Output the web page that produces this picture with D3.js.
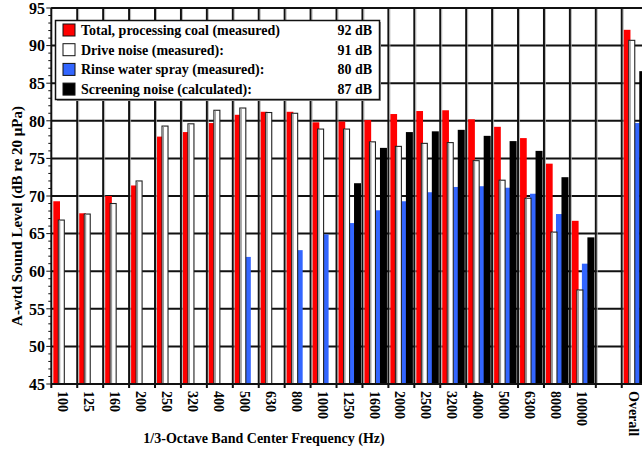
<!DOCTYPE html>
<html><head><meta charset="utf-8">
<script src="https://cdn.jsdelivr.net/npm/d3@7"></script>
<style>
body{margin:0;background:#fff}
svg{display:block}
text{font-family:"Liberation Serif","Times New Roman",serif;font-weight:bold;fill:#000}
</style>
</head><body><svg id="c" width="642" height="451"></svg>
<script>
const categories = ["100","125","160","200","250","320","400","500","630","800","1000","1250","1600","2000","2500","3200","4000","5000","6300","8000","10000","","Overall"];
const totalCoal  = [69.3,67.7,70.0,71.4,77.9,78.5,79.7,80.8,81.2,81.2,79.8,79.9,80.1,80.9,81.3,81.4,80.2,79.2,77.7,74.3,66.7,null,92.1];
const driveNoise = [66.8,67.6,69.0,72.0,79.3,79.6,81.4,81.7,81.1,81.0,78.9,78.9,77.2,76.6,77.0,77.1,74.7,72.1,69.7,65.2,57.5,null,90.7];
const rinseSpray = [null,null,null,null,null,null,null,61.9,null,62.8,64.9,66.4,68.1,69.3,70.5,71.2,71.3,71.1,70.3,67.6,61.0,null,79.7];
const screening  = [null,null,null,null,null,null,null,null,null,null,null,71.7,76.4,78.5,78.6,78.8,78.0,77.3,76.0,72.5,64.5,null,86.6];
const seriesNames = ["Total, processing coal (measured)","Drive noise (measured):","Rinse water spray (measured):","Screening noise (calculated):"];
const overallLabels = ["92 dB","91 dB","80 dB","87 dB"];
const yTicks = [45,50,55,60,65,70,75,80,85,90,95];
const xTitle = "1/3-Octave Band Center Frequency (Hz)";
const yTitle = "A-wtd Sound Level (dB re 20 \u03BCPa)";

const svg = d3.select("#c");
const pL = 51.3, slotW = 25.93, pT = 8, pB = 384;
const x = d3.scaleBand().domain(d3.range(categories.length)).range([pL, pL + slotW*categories.length]).padding(0);
const y = d3.scaleLinear().domain([45,95]).range([pB, pT]);

// grid
const g = svg.append("g");
g.selectAll("line.h").data(yTicks.slice(1)).join("line")
  .attr("x1", pL).attr("x2", 660).attr("y1", d=>y(d)).attr("y2", d=>y(d))
  .attr("stroke","#111").attr("stroke-width",2);
g.selectAll("line.v").data(d3.range(1, categories.length)).join("line")
  .attr("x1", d=>x(d)).attr("x2", d=>x(d)).attr("y1", pT).attr("y2", pB+4)
  .attr("stroke","#111").attr("stroke-width",2);
g.selectAll("line.vs").data(d3.range(1, categories.length)).join("line")
  .attr("x1", d=>x(d)+1.5).attr("x2", d=>x(d)+1.5).attr("y1", pT).attr("y2", pB)
  .attr("stroke","#aaa").attr("stroke-width",0.8);

// bars
const series = [
  {vals: totalCoal, off: 2, w: 6.7, fill: "#ff0000"},
  {vals: rinseSpray, off: 12, w: 6.0, fill: "#3366ff"},
  {vals: driveNoise, off: 7, w: 6.0, fill: "#ffffff", white: true},
  {vals: screening, off: 17.5, w: 7.0, fill: "#000000"}
];
series.forEach(s => {
  const data = s.vals.map((v,i)=>({v,i})).filter(d=>d.v!=null);
  const gg = svg.append("g");
  gg.selectAll("rect.b").data(data).join("rect").attr("class","b")
    .attr("x", d=>x(d.i)+s.off).attr("width", s.w)
    .attr("y", d=>y(d.v)).attr("height", d=>pB - y(d.v))
    .attr("fill", s.fill)
    .attr("stroke", s.white ? "#222" : "none").attr("stroke-width", s.white ? 1.1 : 0);
  if (s.white) {
    gg.selectAll("rect.sh").data(data).join("rect").attr("class","sh")
      .attr("x", d=>x(d.i)+s.off+0.6).attr("width", 1.4)
      .attr("y", d=>y(d.v)+0.6).attr("height", d=>pB - y(d.v)-0.6)
      .attr("fill", "#999");
  }
});

// axes frame
svg.append("line").attr("x1",pL).attr("x2",660).attr("y1",pT).attr("y2",pT).attr("stroke","#111").attr("stroke-width",2);
svg.append("line").attr("x1",pL).attr("x2",660).attr("y1",pB).attr("y2",pB).attr("stroke","#111").attr("stroke-width",2);
svg.append("line").attr("x1",pL).attr("x2",pL).attr("y1",pT).attr("y2",pB+4).attr("stroke","#111").attr("stroke-width",2);

// y minor ticks
svg.selectAll("line.ym").data(d3.range(45,96)).join("line").attr("class","ym")
  .attr("x1", d=> d%5===0 ? pL-5 : pL-3).attr("x2", pL)
  .attr("y1", d=>y(d)).attr("y2", d=>y(d))
  .attr("stroke","#111").attr("stroke-width",1);
// y labels
svg.selectAll("text.yl").data(yTicks).join("text").attr("class","yl")
  .attr("x", 45).attr("y", d=>y(d)).attr("dy","0.36em")
  .attr("text-anchor","end").attr("font-size",16).text(d=>d);

// x labels
svg.selectAll("text.xl").data(categories.map((c,i)=>({c,i}))).join("text").attr("class","xl")
  .attr("transform", d=>`translate(${x(d.i)+x.bandwidth()/2-1},391) rotate(90)`)
  .attr("dy","0.35em").attr("font-size",14).text(d=>d.c);

// titles
svg.append("text").attr("x",264).attr("y",443).attr("text-anchor","middle").attr("font-size",14).text(xTitle);
svg.append("text").attr("transform","translate(22,216) rotate(-90)").attr("text-anchor","middle").attr("font-size",15).text(yTitle);

// legend
const lg = svg.append("g");
lg.append("rect").attr("x",57).attr("y",22).attr("width",324).attr("height",79).attr("fill","#999");
lg.append("rect").attr("x",55.5).attr("y",20.5).attr("width",324).attr("height",79).attr("fill","#fff").attr("stroke","#111").attr("stroke-width",1.5);
const swatch = ["#ff0000","#ffffff","#3366ff","#000000"];
seriesNames.forEach((n,i)=>{
  const cy = 30 + i*19.7;
  lg.append("rect").attr("x",63).attr("y",cy-6).attr("width",12).attr("height",12).attr("fill",swatch[i]).attr("stroke","#111").attr("stroke-width",1);
  lg.append("text").attr("x",81).attr("y",cy).attr("dy","0.35em").attr("font-size",14).text(n);
  lg.append("text").attr("x",372).attr("y",cy).attr("dy","0.35em").attr("text-anchor","end").attr("font-size",14).text(overallLabels[i]);
});
</script>
</body></html>
